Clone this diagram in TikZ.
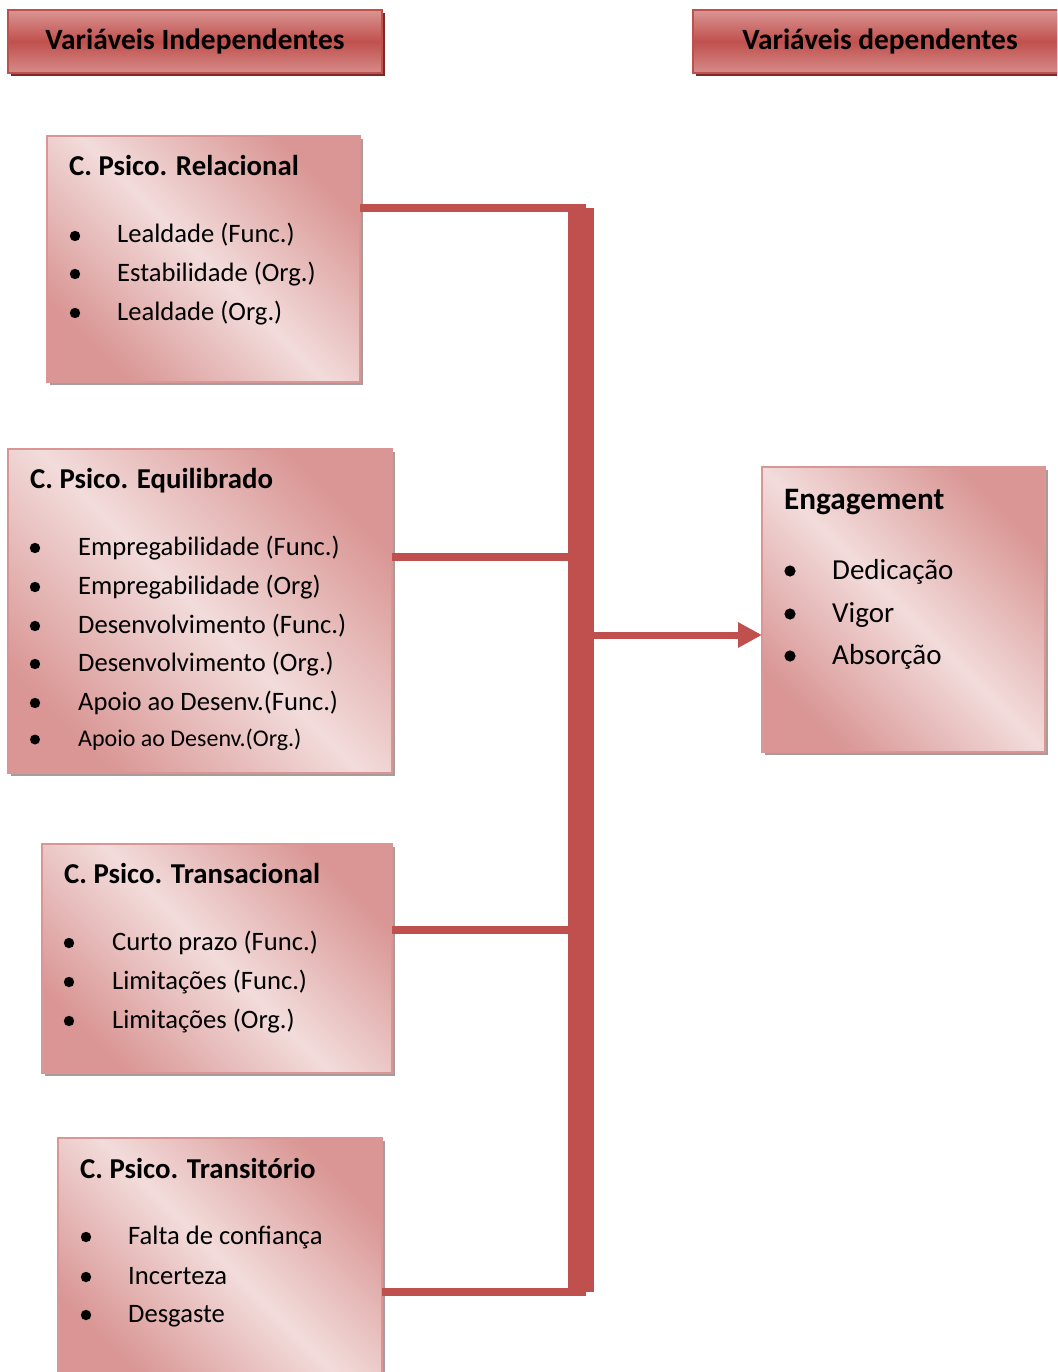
\documentclass[tikz,border=0pt]{standalone}
\usepackage{fontspec}
\setmainfont{Carlito}
\usetikzlibrary{shadows,arrows.meta}
\definecolor{redA}{HTML}{C0504D}
\definecolor{pinkD}{HTML}{D99694}
\definecolor{pinkL}{HTML}{F2DCDB}
\definecolor{shadowR}{HTML}{7B2A28}
\definecolor{shadowG}{HTML}{A89B9B}
\newcommand{\bul}[5]{%
  \fill (#2,#4-7) circle (5.2);
  \node[itemtxt, anchor=base west] (#1) at (#3,#4) {#5};
}
\begin{document}
\begin{tikzpicture}[x=1pt,y=-1pt,
  header/.style={draw=redA, line width=1.5pt, anchor=north west, inner sep=0pt, outer sep=0pt,
    top color=pinkD, bottom color=pinkD!85!redA, middle color=redA,
    general shadow={fill=shadowR, shadow xshift=3pt, shadow yshift=-3pt}},
  headtxt/.style={inner sep=0pt, anchor=base, font=\fontsize{29.4}{34}\selectfont\bfseries},
  panel/.style={draw=pinkD, line width=1.5pt, anchor=north west, inner sep=0pt, outer sep=0pt,
    top color=pinkD, bottom color=pinkD, middle color=pinkL, shading angle=-45,
    general shadow={fill=shadowG, shadow xshift=3pt, shadow yshift=-3pt}},
  titletxt/.style={inner sep=0pt, font=\fontsize{28.8}{33}\selectfont\bfseries},
  itemtxt/.style={inner sep=0pt, font=\fontsize{26.6}{31}\selectfont},
  link/.style={draw=redA, line width=8pt},
]
\useasboundingbox (0,0) rectangle (1057,1372);

% headers
\node[header, minimum width=374pt, minimum height=63pt] (hL) at (8,10) {};
\node[headtxt] (hLt) at (195,50) {Variáveis Independentes};
\begin{scope}
\clip (0,0) rectangle (1057,1372);
\node[header, minimum width=370pt, minimum height=63pt] (hR) at (693,10) {};
\end{scope}
\node[headtxt] (hRt) at (880,50) {Variáveis dependentes};

% panels
\node[panel, minimum width=313pt, minimum height=246pt] (b1) at (47,136) {};
\node[panel, minimum width=384pt, minimum height=324pt] (b2) at (8,449) {};
\node[panel, minimum width=350pt, minimum height=229pt] (b3) at (42,844) {};
\begin{scope}
\clip (0,0) rectangle (1057,1372);
\node[panel, minimum width=324pt, minimum height=240pt] (b4) at (58,1138) {};
\end{scope}
\node[panel, minimum width=283pt, minimum height=285pt] (b5) at (762,467) {};

% connectors
\coordinate (bartop) at (581,208);
\coordinate (barbot) at (581,1292);
\coordinate (barmid) at (594,635);
\draw[redA, line width=26pt] (bartop) -- (barbot);
\draw[link] (b1.east |- 0,208) -- (586,208);
\draw[link] (b2.east |- 0,557) -- (568,557);
\draw[link] (b3.east |- 0,930) -- (568,930);
\draw[link] (b4.east |- 0,1292) -- (586,1292);
\draw[redA, line width=7pt, -{Triangle[length=24pt,width=24pt]}] (barmid) -- (b5.west |- barmid);

% box 1
\node[titletxt, anchor=base west] (t1) at (69,176) {C. Psico. Relacional};
\bul{i11}{75}{117}{243}{Lealdade (Func.)}
\bul{i12}{75}{117}{281}{Estabilidade (Org.)}
\bul{i13}{75}{117}{320}{Lealdade (Org.)}

% box 2
\node[titletxt, anchor=base west] (t2) at (30,488) {C. Psico. Equilibrado};
\bul{i21}{35}{78}{555}{Empregabilidade (Func.)}
\bul{i22}{35}{78}{594}{Empregabilidade (Org)}
\bul{i23}{35}{78}{633}{Desenvolvimento (Func.)}
\bul{i24}{35}{78}{671}{Desenvolvimento (Org.)}
\bul{i25}{35}{78}{710}{Apoio ao Desenv.(Func.)}
\fill (35,746-6.5) circle (5);
\node[inner sep=0pt, font=\fontsize{24}{28}\selectfont, anchor=base west] (i26) at (78,746) {Apoio ao Desenv.(Org.)};

% box 3
\node[titletxt, anchor=base west] (t3) at (64,883) {C. Psico. Transacional};
\bul{i31}{69}{112}{950}{Curto prazo (Func.)}
\bul{i32}{69}{112}{989}{Limitações (Func.)}
\bul{i33}{69}{112}{1028}{Limitações (Org.)}

% box 4
\node[titletxt, anchor=base west] (t4) at (80,1178) {C. Psico. Transitório};
\bul{i41}{86}{128}{1244}{Falta de confiança}
\bul{i42}{86}{128}{1284}{Incerteza}
\bul{i43}{86}{128}{1322}{Desgaste}

% engagement
\node[inner sep=0pt, font=\fontsize{31.2}{36}\selectfont\bfseries, anchor=base west] (t5) at (784,509) {Engagement};
\fill (790,579-8) circle (5.6);
\node[inner sep=0pt, font=\fontsize{29}{34}\selectfont, anchor=base west] (i51) at (832,579) {Dedicação};
\fill (790,622-8) circle (5.6);
\node[inner sep=0pt, font=\fontsize{29}{34}\selectfont, anchor=base west] (i52) at (832,622) {Vigor};
\fill (790,664-8) circle (5.6);
\node[inner sep=0pt, font=\fontsize{29}{34}\selectfont, anchor=base west] (i53) at (832,664) {Absorção};
\end{tikzpicture}
\end{document}
